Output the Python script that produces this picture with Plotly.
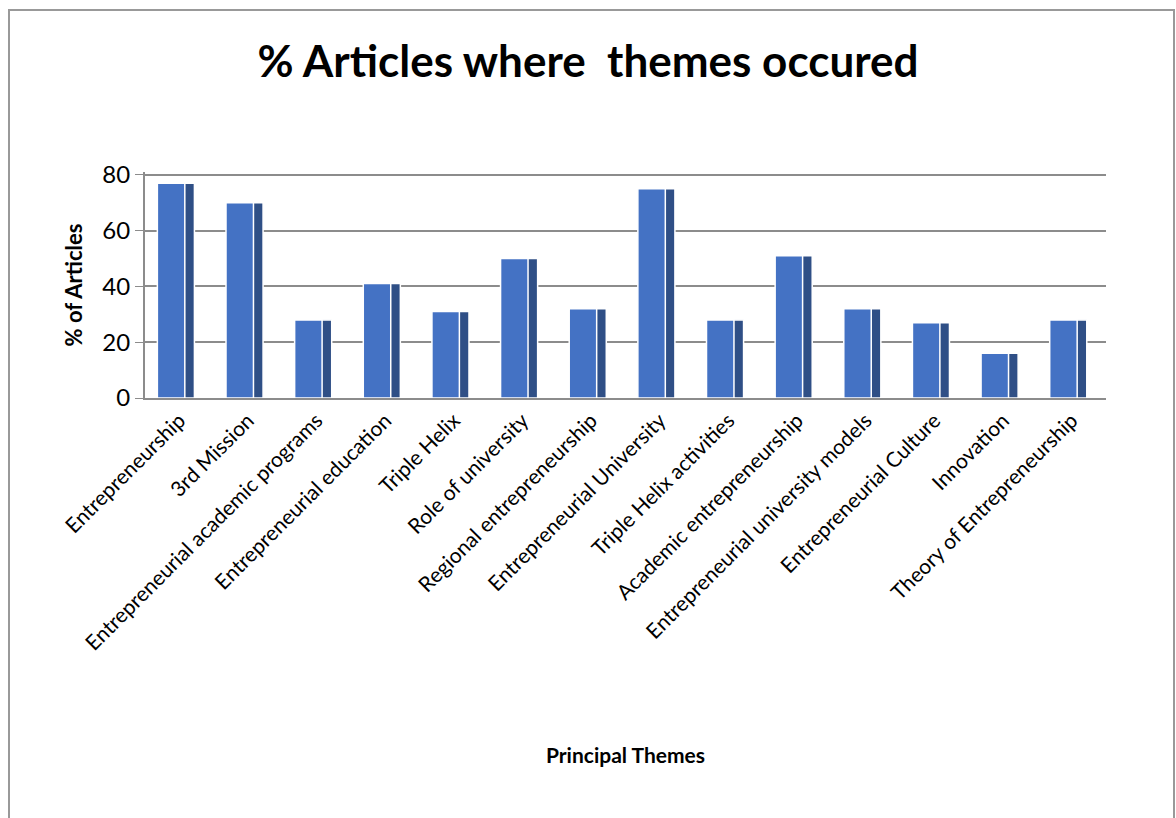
import plotly.graph_objects as go

categories = [
    "Entrepreneurship", "3rd Mission", "Entrepreneurial academic programs",
    "Entrepreneurial education", "Triple Helix", "Role of university",
    "Regional entrepreneurship", "Entrepreneurial University",
    "Triple Helix activities", "Academic entrepreneurship",
    "Entrepreneurial university models", "Entrepreneurial Culture",
    "Innovation", "Theory of Entrepreneurship",
]
pct_articles = [77, 70, 28, 41, 31, 50, 32, 75, 28, 51, 32, 27, 16, 28]
y_ticks = [0, 20, 40, 60, 80]

FRONT = "#4472C4"
SIDE = "#2F4F86"
FONT = "Lato, 'Open Sans', sans-serif"

W, H = 1176, 818
ML, MR, MT, MB = 145, 70, 172, 420
PW, PH = W - ML - MR, H - MT - MB

fig = go.Figure()
fig.add_trace(go.Bar(
    x=categories, y=pct_articles, name="side",
    marker=dict(color=SIDE, line=dict(color="white", width=1.5)),
    offset=0.06, width=0.16, showlegend=False, hoverinfo="skip",
))
fig.add_trace(go.Bar(
    x=categories, y=pct_articles, name="% of Articles",
    marker=dict(color=FRONT, line=dict(color="white", width=1.5)),
    offset=-0.32, width=0.40, showlegend=False,
))

fig.update_layout(
    width=W, height=H,
    paper_bgcolor="white", plot_bgcolor="white",
    barmode="overlay",
    margin=dict(l=ML, r=MR, t=MT, b=MB),
    font=dict(family=FONT, size=21, color="black"),
    title=dict(text="<b>% Articles where  themes occured</b>",
               x=0.5, xanchor="center", y=1 - 62 / H, yanchor="middle",
               font=dict(family=FONT, size=44, color="black")),
    xaxis=dict(
        tickangle=-45, tickfont=dict(size=21), showgrid=False,
        showline=True, linecolor="#8c8c8c", linewidth=2,
        title=dict(text="<b>Principal Themes</b>", font=dict(size=21), standoff=95),
        automargin=False,
    ),
    yaxis=dict(
        range=[0, 81], tickvals=y_ticks, tickfont=dict(size=24),
        showgrid=True, gridcolor="#8c8c8c", gridwidth=2,
        showline=True, linecolor="#8c8c8c", linewidth=2,
        ticks="outside", ticklen=8, tickcolor="#8c8c8c",
        title=dict(text="<b>% of Articles</b>", font=dict(size=22), standoff=14),
        zeroline=False, automargin=False,
    ),
)

fig.add_shape(type="rect", xref="paper", yref="paper",
              x0=-(ML - 9) / PW, x1=1 + (MR - 2) / PW,
              y0=-(MB + 10) / PH, y1=1 + (MT - 10) / PH,
              line=dict(color="#999999", width=2), fillcolor="rgba(0,0,0,0)")

fig.write_html("out.html", config={"displayModeBar": False})

with open("out.html", "r", encoding="utf-8") as f:
    html = f.read()
html = html.replace("<head>", "<head><style>html,body{margin:0;padding:0;overflow:hidden;}</style>", 1)
with open("out.html", "w", encoding="utf-8") as f:
    f.write(html)
